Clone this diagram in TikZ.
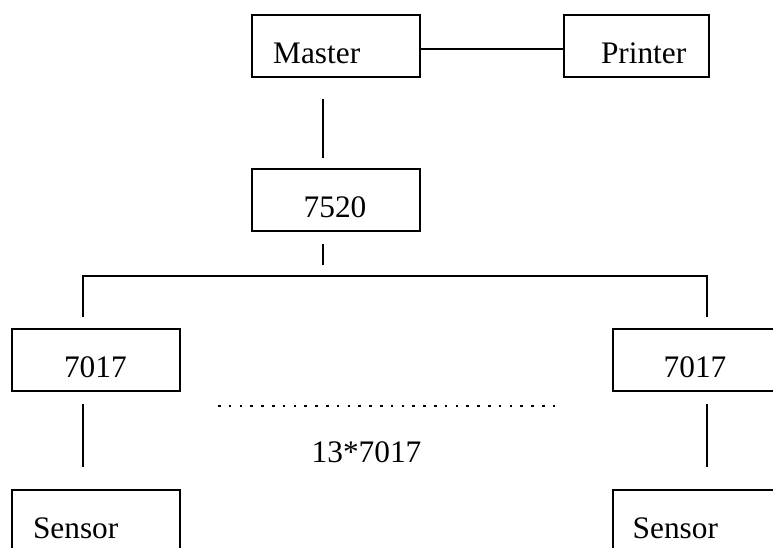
\documentclass[tikz,border=0pt]{standalone}
\usepackage{fontspec}
\setmainfont{Liberation Serif}

\begin{document}
\begin{tikzpicture}[x = 0.75pt, y = -0.75pt, line width = 1.5pt,
    unit/.style = {draw, anchor = north west, inner ysep = 0pt,
        text height = 36.4pt, text depth = 10.1pt, align = left,
        font = \fontsize{23.5}{28}\selectfont},
    label/.style = {font = \fontsize{23.5}{28}\selectfont}]
    \clip (0,0) rectangle (773,548);

    \node[unit, inner xsep = 16.1pt, text width = 94pt] (master) at (250.7,14) {Master};
    \node[unit, inner xsep = 27.75pt, text width = 53.25pt] (printer) at (563,14) {Printer};
    \node[unit, inner xsep = 39pt, text width = 48.2pt] (u7520) at (250.7,168) {7520};

    \node[unit, inner xsep = 39pt, text width = 48pt] (l7017) at (11,328) {7017};
    \node[unit, inner xsep = 38.25pt, text width = 49.5pt] (r7017) at (611.7,328) {7017};
    \node[unit, inner xsep = 15.75pt, text width = 94.5pt] (lsensor) at (11,489) {Sensor};
    \node[unit, inner xsep = 15pt, text width = 96pt] (rsensor) at (611.7,489) {Sensor};

    \coordinate (tap) at (322.7,276);
    \coordinate (busL) at (83,276);
    \coordinate (busR) at (707,276);

    \draw ([yshift = -2.25pt]master.east) -- ([yshift = -2.25pt]printer.west);
    \draw[shorten <= 15.75pt, shorten >= 7.5pt] (tap |- master.south) -- (tap |- u7520.north);
    \draw[shorten <= 9pt, shorten >= 8.25pt] (tap |- u7520.south) -- (tap);
    \draw[shorten <= 8.25pt, shorten >= 8.25pt] (busL |- l7017.north) -- (busL) -- (busR) -- (busR |- r7017.north);

    \draw[shorten <= 9pt, shorten >= 16.5pt] (busL |- l7017.south) -- (busL |- lsensor.north);
    \draw[shorten <= 9pt, shorten >= 16.5pt] (busR |- r7017.south) -- (busR |- rsensor.north);

    \coordinate (dotsL) at (218,406);
    \coordinate (dotsR) at (563,406);
    \draw[line width = 2.2pt, dash pattern = on 2pt off 6.1pt] (dotsL) -- (dotsR);
    \node[label, anchor = base] (count) at (366.5,462) {13*7017};
\end{tikzpicture}
\end{document}
